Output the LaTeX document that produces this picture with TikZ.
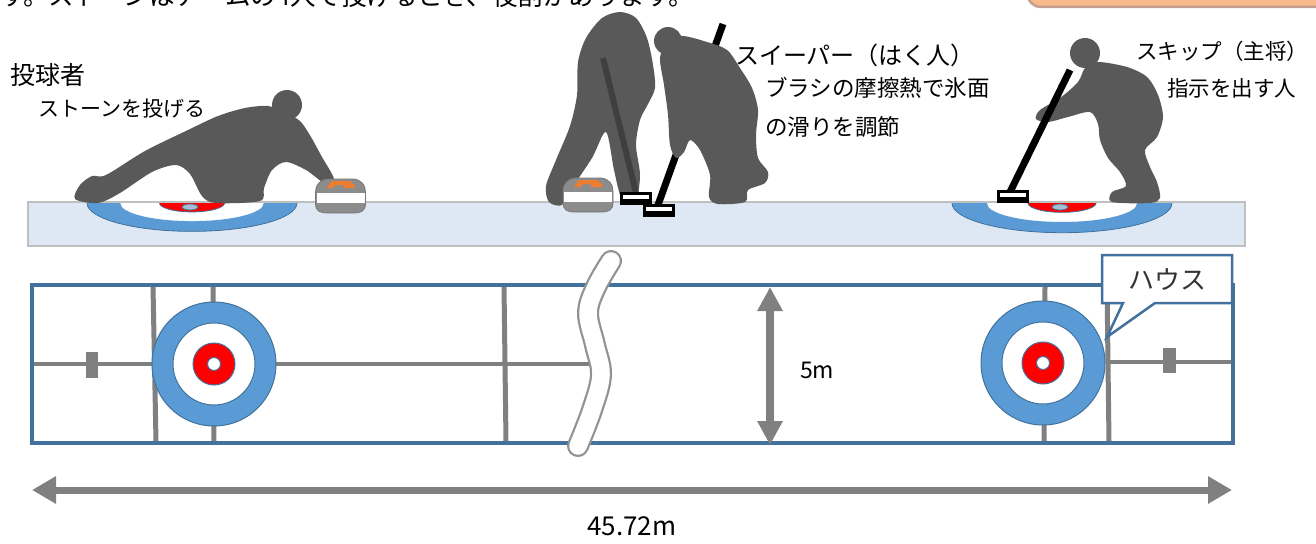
\documentclass[tikz,border=0pt]{standalone}
\usepackage{fontspec}
\setmainfont{Noto Sans CJK JP}
\usetikzlibrary{arrows.meta}

\definecolor{rinkblue}{HTML}{41719C}
\definecolor{houseblue}{HTML}{5B9BD5}
\definecolor{linegray}{HTML}{808080}
\definecolor{figgray}{HTML}{595959}
\definecolor{broomgray}{HTML}{3F3F3F}
\definecolor{icefill}{HTML}{DEE8F4}
\definecolor{iceedge}{HTML}{BFBFBF}
\definecolor{stonegray}{HTML}{8C8C8C}
\definecolor{handleorange}{HTML}{ED7D31}
\definecolor{notefill}{HTML}{F8B98D}
\definecolor{noteedge}{HTML}{C4A08E}

\newcommand\fsz[1]{\fontsize{#1}{#1}\selectfont}

\tikzset{
  txt/.style={inner sep=0pt, anchor=west, text=black},
  figure/.style={fill=figgray, draw=none},
  broom/.style={line width=7pt, black},
  rinkline/.style={linegray, line width=5pt},
  centreline/.style={linegray, line width=4pt},
  dimarrow/.style={linegray, line width=#1},
  % a sweeping brush head: black block with a white stripe
  brushhead/.pic={
    \fill[black] (0,0) rectangle (32,13);
    \fill[white] (3,3) rectangle (29,7);
  },
  % a curling stone seen from the side, origin at the top of the white band
  stone/.pic={
    \filldraw[fill=stonegray, draw=stonegray!85!black, line width=0.8pt]
      (-25,11) .. controls (-25,20) and (-20,21) .. (-12,21) -- (12,21)
      .. controls (20,21) and (25,20) .. (25,11) -- (25,0)
      .. controls (25,-7) and (21,-12) .. (13,-13) -- (-13,-13)
      .. controls (-21,-12) and (-25,-7) .. (-25,0) -- cycle;
    \fill[white] (-24,0.5) rectangle (24,10.5);
    \fill[handleorange] (-14,-4) -- (-9,-11) -- (9,-11) -- (15,-6)
      -- (13,-4) -- (2,-4) -- (4,-7) -- (-5,-7) -- (-8,-4) -- cycle;
  },
  % concentric house rings of the plan view
  house/.pic={
    \filldraw[fill=houseblue, draw=rinkblue, line width=1pt] (0,0) circle[radius=62pt];
    \filldraw[fill=white, draw=rinkblue, line width=1pt] (0,0) circle[radius=41pt];
    \filldraw[fill=red, draw=rinkblue, line width=1pt] (0,0) circle[radius=21pt];
    \filldraw[fill=white, draw=rinkblue, line width=1pt] (0,0) circle[radius=6.5pt];
  },
  % house seen in perspective, only the half below the ice edge
  sidehouse/.pic={
    \begin{scope}
      \clip (-130,0) rectangle (130,40);
      \filldraw[fill=houseblue, draw=rinkblue, line width=0.8pt] (0,0) ellipse[x radius=#1pt, y radius=0.27*#1pt];
      \filldraw[fill=white, draw=white] (0,0) ellipse[x radius=0.68*#1pt, y radius=0.17*#1pt];
      \filldraw[fill=red, draw=rinkblue, line width=0.8pt] (0,0) ellipse[x radius=0.31*#1pt, y radius=0.085*#1pt];
    \end{scope}
    \filldraw[fill=houseblue!55!gray!60, draw=rinkblue, line width=0.8pt] (-2,4) ellipse[x radius=8pt, y radius=3pt];
  }
}

\begin{document}
\begin{tikzpicture}[x=1pt, y=-1pt]
\useasboundingbox (0,0) rectangle (1316,543);

% cut-off lines above the picture
\node[txt, font=\fsz{25.5}] (intro) at (0,-4) {す。ストーンはチームの4人で投げるとき、役割があります。};
\filldraw[fill=notefill, draw=noteedge, line width=2.5pt, rounded corners=14pt]
  (1027,-40) rectangle (1345,7);

% ---------------- side view ----------------
\filldraw[fill=icefill, draw=iceedge, line width=1.5pt] (28,202) rectangle (1245,246);
\pic at (192,203) {sidehouse=105};
\pic at (1062,203) {sidehouse=110};

% thrower
\fill[figure] plot[smooth cycle, tension=0.5] coordinates {
  (75,199) (80,185) (92,176) (106,175) (145,151) (188,130) (218,116) (245,108)
  (268,106) (284,112) (300,121) (311,137) (322,157) (332,174) (334,182) (324,183)
  (306,170) (286,162) (272,170) (264,188) (260,201) (216,203) (202,196) (190,174)
  (176,165) (152,172) (120,193) (98,203)};
\fill[figure] (287,105) circle[radius=15pt];
\pic at (340.5,192) {stone};

% sweeper standing upright
\fill[figure] plot[smooth cycle, tension=0.5] coordinates {
  (620,12) (636,18) (647,38) (653,65) (655,88) (648,104) (640,120) (636,145)
  (640,175) (636,198) (622,199) (614,170) (606,132) (592,158) (572,188) (562,205)
  (549,202) (546,186) (556,160) (570,126) (577,95) (578,62) (586,38) (602,18)};
\draw[broomgray, line width=6pt] (603,58) -- (636,193);
\pic at (588,191) {stone};

% sweeper bending forward
\draw[broom] (723,24) -- (658,205);
\fill[figure] plot[smooth cycle, tension=0.5] coordinates {
  (680,36) (707,42) (727,50) (740,68) (752,88) (758,110) (756,135) (758,158)
  (768,172) (765,183) (748,190) (745,202) (718,204) (709,197) (710,175) (700,150)
  (690,140) (684,152) (676,158) (670,145) (668,115) (664,85) (660,60) (664,48)};
\fill[figure] (668,41) circle[radius=14pt];
\pic at (620,192) {brushhead};
\pic at (643,204) {brushhead};

% skip
\fill[figure] plot[smooth cycle, tension=0.5] coordinates {
  (1098,62) (1127,67) (1147,77) (1158,95) (1163,117) (1157,137) (1145,150)
  (1150,167) (1157,182) (1160,198) (1150,203) (1112,202) (1112,192) (1126,186)
  (1120,172) (1108,158) (1100,140) (1098,124) (1090,112) (1068,117) (1048,122)
  (1036,119) (1040,110) (1060,98) (1078,82) (1085,68)};
\fill[figure] (1085,53) circle[radius=15pt];
\draw[broom] (1070,70) -- (1010,192);
\pic at (997,190) {brushhead};

% role labels
\node[txt, font=\fsz{25}] (thrower) at (10,75) {投球者};
\node[txt, font=\fsz{21}] (throwernote) at (38,109) {ストーンを投げる};
\node[txt, font=\fsz{24}] (sweeper) at (735,55) {スイーパー（はく人）};
\node[txt, font=\fsz{22.5}] (sweepnote1) at (765,88) {ブラシの摩擦熱で氷面};
\node[txt, font=\fsz{22.5}] (sweepnote2) at (765,127) {の滑りを調節};
\node[txt, font=\fsz{21.5}] (skip) at (1136,51) {スキップ（主将）};
\node[txt, font=\fsz{21.5}] (skipnote) at (1167,88) {指示を出す人};

% ---------------- plan view ----------------
\fill[white] (32,285) rectangle (1233,443);
\draw[centreline] (34,364) -- (600,364);
\draw[centreline] (1108,362) -- (1231,362);
\draw[rinkline] (153,286) -- (156,442);
\draw[rinkline] (213,286) -- (214,442);
\draw[rinkline] (504,286) -- (506,442);
\draw[rinkline] (1045,286) -- (1044,442);
\draw[rinkline] (1107,286) -- (1109,442);
\fill[linegray] (86,352) rectangle (98,378);
\fill[linegray] (1163,348) rectangle (1176,373);
\pic at (214,364) {house};
\pic at (1043,363) {house};
\draw[rinkblue, line width=4pt] (32,285) rectangle (1233,443);

% break in the sheet
\draw[linegray!85, line width=22pt, line cap=round]
  plot[smooth, tension=0.6] coordinates {(611,261) (596,287) (588,313) (595,345) (601,375) (592,410) (578,446)};
\draw[white, line width=17.5pt, line cap=round]
  plot[smooth, tension=0.6] coordinates {(611,261) (596,287) (588,313) (595,345) (601,375) (592,410) (578,446)};

% width dimension
\coordinate (wtop) at (770,287);
\coordinate (wbot) at (770,445);
\draw[dimarrow=8pt, {Triangle[width=24pt,length=24pt]}-{Triangle[width=24pt,length=24pt]}] (wtop) -- (wbot);
\node[txt, font=\fsz{23}] (width) at (800,370) {5m};

% length dimension
\coordinate (lleft) at (32,490);
\coordinate (lright) at (1232,490);
\draw[dimarrow=7pt, {Triangle[width=26pt,length=24pt]}-{Triangle[width=26pt,length=24pt]}] (lleft) -- (lright);
\node[txt, font=\fsz{26}] (length) at (587,526) {45.72m};

% callout naming the house
\filldraw[fill=white, draw=rinkblue, line width=2.5pt, line join=miter]
  (1102,255) -- (1232,255) -- (1232,303) -- (1155,303) -- (1107,337) -- (1123,303) -- (1102,303) -- cycle;
\node[inner sep=0pt, font=\fsz{26}, text=black!80] (housecallout) at (1167,280) {ハウス};
\end{tikzpicture}
\end{document}
